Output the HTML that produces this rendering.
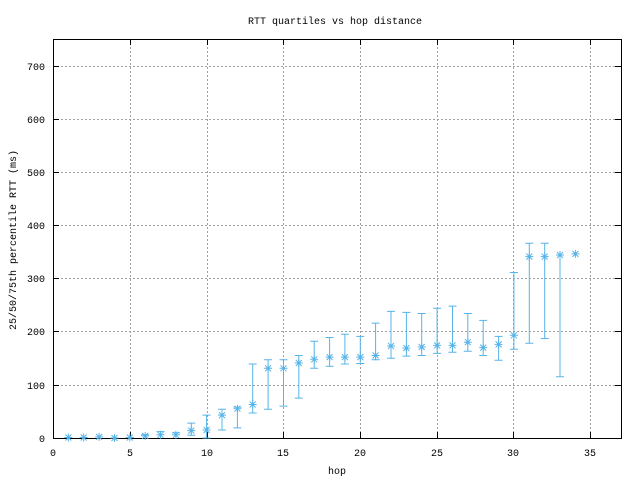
<!DOCTYPE html>
<html><head><meta charset="utf-8"><style>
html,body{margin:0;padding:0;background:#fff}
svg{display:block}
text{font-family:"Liberation Mono",monospace;font-size:10px;fill:#000}
</style></head><body>
<svg width="640" height="480" viewBox="0 0 640 480" xmlns="http://www.w3.org/2000/svg">
<defs>
<path id="m" d="M-4,0h8M0,-4v8M-3,-3l6,6M-3,3l6,-6" stroke="#56b4e9" stroke-width="1" fill="none"/>
</defs>
<rect width="640" height="480" fill="#fff"/>
<g stroke="#a0a0a0" stroke-width="1" stroke-dasharray="2,2" fill="none">
<path d="M130.5,39v399M207.5,39v399M283.5,39v399M360.5,39v399M437.5,39v399M513.5,39v399M590.5,39v399"/>
<path d="M53,385.5h568M53,331.5h568M53,278.5h568M53,225.5h568M53,172.5h568M53,119.5h568M53,66.5h568"/>
</g>
<g stroke="#000" stroke-width="1" fill="none">
<rect x="53.5" y="39.5" width="568" height="399"/>
<path d="M53,438.5h6M53,385.5h6M53,331.5h6M53,278.5h6M53,225.5h6M53,172.5h6M53,119.5h6M53,66.5h6"/>
<path d="M621,385.5h-6M621,331.5h-6M621,278.5h-6M621,225.5h-6M621,172.5h-6M621,119.5h-6M621,66.5h-6"/>
<path d="M53.5,438v-6M130.5,438v-6M207.5,438v-6M283.5,438v-6M360.5,438v-6M437.5,438v-6M513.5,438v-6M590.5,438v-6"/>
<path d="M53.5,39v6M130.5,39v6M207.5,39v6M283.5,39v6M360.5,39v6M437.5,39v6M513.5,39v6M590.5,39v6"/>
</g>
<g text-anchor="end">
<text x="45" y="442">0</text><text x="45" y="389">100</text><text x="45" y="335">200</text><text x="45" y="282">300</text>
<text x="45" y="229">400</text><text x="45" y="176">500</text><text x="45" y="123">600</text><text x="45" y="70">700</text>
</g>
<g text-anchor="middle">
<text x="53" y="456">0</text><text x="130" y="456">5</text><text x="207" y="456">10</text><text x="283" y="456">15</text>
<text x="360" y="456">20</text><text x="437" y="456">25</text><text x="513" y="456">30</text><text x="590" y="456">35</text>
<text x="337" y="474">hop</text>
<text x="335" y="24">RTT quartiles vs hop distance</text>
<text transform="translate(16,240) rotate(-90)">25/50/75th percentile RTT (ms)</text>
</g>
<g stroke="#56b4e9" stroke-width="1" fill="none">
<path d="
M145.2,435.9V434.8M160.5,437V431.6M175.9,437V432.7M191.3,435.3V423.1M206.6,438V415.1
M222,430V409.3M237.4,427.9V407.1M252.7,413V364M268.1,409.3V359.8M283.5,406.1V359.8M298.8,398.1V355.5
M314.2,368.3V341.2M329.6,366.2V337.5M344.9,364V334.3M360.3,363.5V336.4M375.6,359.8V323.1M391,358.2V311.4
M406.4,356.1V312.4M421.7,355.5V313.5M437.1,353.4V308.2M452.5,352.3V306.1M467.8,351.3V313.5M483.2,355.5V320.4
M498.6,360.3V336.4M513.9,349.2V272.5M529.3,343.3V243.3M544.7,338.5V243.3M560,376.8V255
"/>
<path d="
M141,434.8h8M156.5,431.6h8M172,432.7h8M187.3,435.3h8M187.3,423.1h8M202.6,438h8M202.6,415.1h8
M218,430h8M218,409.3h8M233.4,427.9h8M233.4,407.1h8M248.7,413h8M248.7,364h8M264.1,409.3h8M264.1,359.8h8
M279.5,406.1h8M279.5,359.8h8M294.8,398.1h8M294.8,355.5h8M310.2,368.3h8M310.2,341.2h8M325.6,366.2h8M325.6,337.5h8
M340.9,364h8M340.9,334.3h8M356.3,363.5h8M356.3,336.4h8M371.6,359.8h8M371.6,323.1h8M387,358.2h8M387,311.4h8
M402.4,356.1h8M402.4,312.4h8M417.7,355.5h8M417.7,313.5h8M433.1,353.4h8M433.1,308.2h8M448.5,352.3h8M448.5,306.1h8
M463.8,351.3h8M463.8,313.5h8M479.2,355.5h8M479.2,320.4h8M494.6,360.3h8M494.6,336.4h8M509.9,349.2h8M509.9,272.5h8
M525.3,343.3h8M525.3,243.3h8M540.7,338.5h8M540.7,243.3h8M556,376.8h8
"/>
</g>
<use href="#m" x="68.4" y="437.5"/><use href="#m" x="83.7" y="437.5"/><use href="#m" x="99.1" y="436.9"/>
<use href="#m" x="114.5" y="438"/><use href="#m" x="129.8" y="437.5"/><use href="#m" x="145.2" y="435.9"/>
<use href="#m" x="160.5" y="434.8"/><use href="#m" x="175.9" y="434.8"/><use href="#m" x="191.3" y="430.6"/>
<use href="#m" x="206.6" y="430"/><use href="#m" x="222" y="415.1"/><use href="#m" x="237.4" y="408.7"/>
<use href="#m" x="252.7" y="404.5"/><use href="#m" x="268.1" y="368.3"/><use href="#m" x="283.5" y="368.3"/>
<use href="#m" x="298.8" y="363"/><use href="#m" x="314.2" y="359.3"/><use href="#m" x="329.6" y="357.1"/>
<use href="#m" x="344.9" y="357.1"/><use href="#m" x="360.3" y="357.1"/><use href="#m" x="375.6" y="355.5"/>
<use href="#m" x="391" y="346"/><use href="#m" x="406.4" y="348.1"/><use href="#m" x="421.7" y="347"/>
<use href="#m" x="437.1" y="345.4"/><use href="#m" x="452.5" y="345.4"/><use href="#m" x="467.8" y="342.2"/>
<use href="#m" x="483.2" y="347.6"/><use href="#m" x="498.6" y="344.4"/><use href="#m" x="513.9" y="335.3"/>
<use href="#m" x="529.3" y="256.6"/><use href="#m" x="544.7" y="256.6"/><use href="#m" x="560" y="255"/>
<use href="#m" x="575.4" y="253.9"/>
</svg>
</body></html>
